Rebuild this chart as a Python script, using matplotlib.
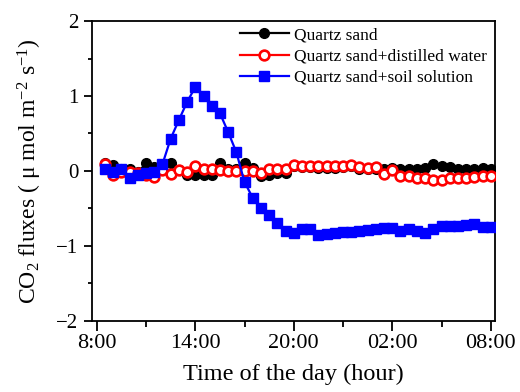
import numpy as np
import matplotlib
matplotlib.use("Agg")
import matplotlib.pyplot as plt
from matplotlib.ticker import MultipleLocator, FixedLocator

plt.rcParams["font.family"] = ["Liberation Serif", "DejaVu Serif"]
plt.rcParams["mathtext.fontset"] = "custom"
plt.rcParams["mathtext.rm"] = "Liberation Serif"
plt.rcParams["mathtext.it"] = "Liberation Serif:italic"

# half-hourly samples, hours since midnight of day 1 (8:30 -> 32 = 08:00 next day)
hours = np.arange(8.5, 32.01, 0.5)

quartz = [0.10, 0.08, 0.03, 0.02, -0.02, 0.10, 0.05, 0.05, 0.11, 0.01,
          -0.06, -0.05, -0.05, -0.06, 0.11, 0.02, 0.03, 0.10, 0.04, -0.07,
          -0.05, -0.03, -0.03, 0.07, 0.05, 0.05, 0.04, 0.04, 0.04, 0.05,
          0.06, 0.03, 0.03, 0.02, 0.03, 0.04, 0.03, 0.02, 0.02, 0.04,
          0.09, 0.07, 0.05, 0.03, 0.02, 0.03, 0.04, 0.02]

distilled = [0.09, -0.05, -0.02, -0.02, -0.03, -0.05, -0.08, 0.01, -0.04, 0.01,
             -0.02, 0.06, 0.03, 0.02, 0.01, 0.00, 0.00, 0.00, 0.00, -0.03,
             0.02, 0.02, 0.03, 0.08, 0.06, 0.07, 0.07, 0.06, 0.06, 0.06,
             0.08, 0.05, 0.04, 0.05, -0.04, 0.01, -0.07, -0.07, -0.09, -0.10,
             -0.12, -0.12, -0.10, -0.09, -0.09, -0.08, -0.07, -0.07]

soil = [0.02, -0.01, 0.02, -0.10, -0.06, -0.03, -0.01, 0.09, 0.43, 0.68,
        0.92, 1.12, 1.00, 0.87, 0.77, 0.52, 0.25, -0.15, -0.36, -0.49,
        -0.59, -0.69, -0.80, -0.83, -0.77, -0.78, -0.85, -0.84, -0.83, -0.82,
        -0.81, -0.80, -0.79, -0.78, -0.76, -0.76, -0.80, -0.77, -0.80, -0.83,
        -0.78, -0.73, -0.73, -0.74, -0.72, -0.71, -0.75, -0.75]

xticks = [8, 14, 20, 26, 32]
xticklabels = ["8:00", "14:00", "20:00", "02:00", "08:00"]

fig = plt.figure(figsize=(5.2, 3.92), dpi=100)
ax = fig.add_axes([0.177, 0.182, 0.775, 0.764])

ax.plot(hours, quartz, "-o", color="black", lw=1.6, ms=7,
        mfc="black", mec="black", label="Quartz sand", zorder=3)
ax.plot(hours, distilled, "-o", color="red", lw=1.6, ms=7, mew=1.9,
        mfc="white", mec="red", label="Quartz sand+distilled water", zorder=4)
ax.plot(hours, soil, "-s", color="blue", lw=1.6, ms=6.5,
        mfc="blue", mec="blue", label="Quartz sand+soil solution", zorder=5)

ax.set_xlim(7.71, 32.26)
ax.set_ylim(-2, 2)
ax.xaxis.set_major_locator(FixedLocator(xticks))
ax.set_xticklabels(xticklabels)
ax.xaxis.set_minor_locator(FixedLocator([11, 17, 23, 29]))
ax.yaxis.set_major_locator(MultipleLocator(1))
ax.yaxis.set_minor_locator(MultipleLocator(0.5))

ax.tick_params(axis="both", which="both", direction="out", width=1.3,
               top=False, right=False)
ax.tick_params(axis="x", which="major", length=7.5, pad=2, labelsize=16)
ax.tick_params(axis="x", which="minor", length=4)
ax.tick_params(axis="y", which="major", length=6, pad=4, labelsize=15)
ax.tick_params(axis="y", which="minor", length=3)
for s in ax.spines.values():
    s.set_linewidth(1.3)

ax.set_xlabel("Time of the day (hour)", fontsize=17.5, labelpad=8)
ax.set_ylabel("CO$_2$ fluxes ( μ mol m$^{-2}$ s$^{-1}$)", fontsize=17, labelpad=9)

ax.legend(loc="upper right", bbox_to_anchor=(1.005, 1.015), frameon=False,
          fontsize=12.5, handlelength=2.8, handletextpad=0.3, labelspacing=0.3,
          borderaxespad=0.2)

fig.savefig("out.png", dpi=100)
